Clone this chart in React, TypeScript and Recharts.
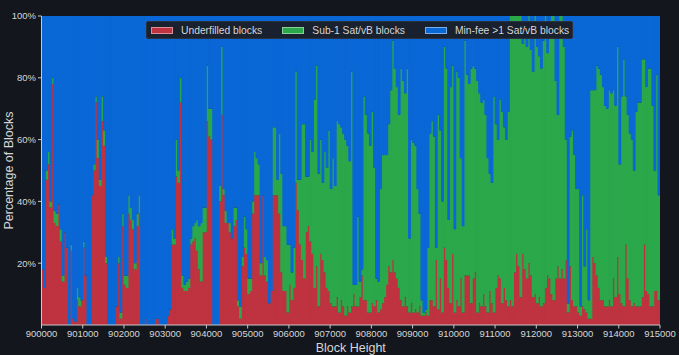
import { BarChart, Bar, XAxis, YAxis } from "recharts";

// 50-block bins, 900000 .. 915000
const blockStart = 900000;
const binSize = 50;

// % of blocks per bin that were underfilled
const underfilled = [
  18, 12, 47, 52, 38, 78, 33, 32, 39, 27,
  14, 30, 25, 0, 24, 2, 1, 8, 6, 8,
  25, 16, 0, 0, 42, 50, 72, 54, 45, 66,
  58, 20, 0, 0, 0, 0, 6, 20,
  2, 32, 13, 12, 36, 34, 31, 18, 32, 36,
  0, 0, 2, 0, 0, 0, 0, 2, 2, 0,
  0, 0, 0, 3, 5, 26, 26, 48, 46, 72,
  12, 11, 11, 12, 26, 27, 28,
  24, 18, 14, 30, 30, 66, 61, 60, 0, 0,
  0, 40, 68, 42, 33, 33, 30, 28, 32, 34,
  6, 2, 19, 25, 23, 10, 11, 36, 42, 42,
  42, 16, 42, 16, 14, 7, 11, 42,
  42, 42, 36, 17, 11, 11, 4, 13, 8, 12,
  46, 37, 26, 21, 15, 30, 32, 27, 23, 12,
  19, 6, 23, 21, 17, 12, 11, 7, 6, 6,
  9, 4, 8, 6, 3, 6, 4, 6,
  10, 6, 6, 9, 16, 8, 8, 4, 4, 7,
  6, 8, 4, 5, 7, 9, 13, 19, 17, 21,
  17, 15, 12, 8, 6, 9, 6, 4, 7, 4,
  5, 4, 6, 3, 3, 4, 3,
  8, 8, 6, 21, 5, 15, 4, 25, 21, 12,
  7, 23, 4, 8, 6, 15, 4, 16, 16, 16,
  7, 15, 17, 4, 7, 6, 10, 6, 4, 11,
  7, 4, 12, 16, 15, 7, 12, 8, 6,
  8, 6, 17, 23, 19, 9, 23, 18, 15, 20,
  16, 9, 10, 7, 9, 6, 7, 12, 16, 15,
  10, 8, 15, 19, 15, 18, 15, 21, 4, 19,
  8, 6, 6, 4, 3, 6,
  5,
  4, 2, 2, 22, 20, 16, 12, 8, 8, 6,
  6, 8, 6, 15, 9, 22, 10, 7, 6, 26,
  15, 8, 6, 7, 6, 6, 6, 9, 26, 11,
  10, 6, 6, 11, 11, 8,
];

// % of blocks per bin with sub-1 sat/vB transactions
const sub1 = [
  0, 0, 3, 4, 2, 2, 4, 4, 0, 4,
  2, 0, 0, 0, 2, 0, 0, 4, 3, 0,
  2, 0, 0, 0, 0, 2, 2, 6, 2, 8,
  5, 2, 0, 0, 0, 0, 0, 2,
  2, 4, 3, 4, 6, 4, 3, 2, 4, 6,
  0, 0, 0, 0, 0, 0, 0, 0, 0, 0,
  0, 0, 0, 0, 0, 5, 2, 12, 4, 8,
  4, 2, 3, 3, 2, 5, 5,
  10, 14, 19, 8, 8, 18, 9, 10, 0, 0,
  0, 5, 22, 2, 4, 0, 3, 0, 6, 4,
  2, 4, 3, 10, 8, 5, 4, 4, 14, 12,
  10, 4, 0, 6, 7, 0, 0, 22,
  22, 5, 26, 32, 21, 21, 22, 13, 9, 13,
  36, 10, 21, 44, 50, 18, 16, 33, 33, 61,
  65, 43, 37, 25, 39, 39, 52, 37, 48, 39,
  57, 61, 56, 56, 57, 52, 49, 76,
  3, 7, 29, 5, 2, 66, 60, 58, 54, 62,
  45, 7, 10, 39, 48, 46, 42, 46, 59, 71,
  66, 62, 56, 75, 73, 66, 77, 24, 53, 55,
  53, 40, 30, 5, 1, 1, 22,
  54, 58, 55, 4, 63, 48, 36, 65, 62, 22,
  70, 61, 27, 74, 74, 39, 28, 76, 65, 62,
  76, 69, 66, 75, 68, 66, 63, 62, 50, 38,
  39, 70, 53, 44, 58, 62, 52, 52, 63,
  92, 94, 83, 77, 81, 91, 68, 80, 75, 80,
  73, 73, 90, 83, 78, 77, 85, 88, 72, 79,
  90, 92, 64, 49, 85, 82, 75, 39, 3, 42,
  55, 49, 38, 40, 3, 36,
  14,
  27, 6, 74, 54, 56, 68, 71, 73, 69, 65,
  64, 68, 69, 61, 62, 68, 42, 67, 80, 48,
  53, 54, 54, 43, 63, 66, 66, 77, 60, 66,
  73, 77, 65, 39, 70, 34,
];

const xTicks = [
  900000, 901000, 902000, 903000, 904000, 905000, 906000, 907000,
  908000, 909000, 910000, 911000, 912000, 913000, 914000, 915000,
];
const yTicks = [20, 40, 60, 80, 100];

const data = underfilled.map((u, i) => ({
  height: blockStart + binSize * i + binSize / 2,
  underfilled: u,
  sub1: sub1[i],
  minfee: 100 - u - sub1[i],
}));

const colors = {
  underfilled: "#bf3340",
  sub1: "#2ba84a",
  minfee: "#0a67d6",
};

const bg = "#13161d";
const axisColor = "#c8c8c8";
const textColor = "#d6d6d6";
const font = "'Liberation Sans', Arial, sans-serif";

const legendItems = [
  { key: "underfilled", label: "Underfilled blocks" },
  { key: "sub1", label: "Sub-1 Sat/vB blocks" },
  { key: "minfee", label: "Min-fee >1 Sat/vB blocks" },
];

// bars are ~2px wide; widen slightly so neighbours overlap and no seams show
function BinRect(props: any) {
  const { x, y, width, height, fill } = props;
  if (!height || height <= 0) return null;
  return <rect x={x - 0.4} y={y} width={width + 0.8} height={height} fill={fill} />;
}

function ChartLegend() {
  return (
    <div
      style={{
        position: "absolute",
        left: 146,
        top: 21,
        width: 427,
        height: 18,
        boxSizing: "border-box",
        background: "#19202e",
        border: "1px solid #2a3140",
        borderRadius: 2,
        display: "flex",
        alignItems: "center",
        paddingLeft: 4,
        fontFamily: font,
        fontSize: 10.3,
        color: textColor,
        whiteSpace: "nowrap",
      }}
    >
      {legendItems.map((item) => (
        <div key={item.key} style={{ display: "flex", alignItems: "center", marginRight: 20 }}>
          <span
            style={{
              display: "inline-block",
              width: 22,
              height: 7,
              boxSizing: "border-box",
              background: colors[item.key as keyof typeof colors],
              border: "1px solid rgba(255,255,255,0.45)",
              marginRight: 8,
            }}
          />
          <span>{item.label}</span>
        </div>
      ))}
    </div>
  );
}

export default function App() {
  return (
    <div
      style={{
        position: "absolute",
        left: 0,
        top: 0,
        width: 679,
        height: 355,
        background: bg,
        overflow: "hidden",
      }}
    >
      <BarChart
        width={679}
        height={355}
        data={data}
        margin={{ top: 16, right: 19, bottom: 0, left: 0 }}
        barCategoryGap={0}
        barGap={0}
      >
        <XAxis
          type="number"
          dataKey="height"
          domain={[900000, 915000]}
          ticks={xTicks}
          interval={0}
          allowDataOverflow
          height={30}
          stroke={axisColor}
          tickSize={3.5}
          tick={{ fill: textColor, fontSize: 9.5, fontFamily: font }}
          label={{
            value: "Block Height",
            position: "insideBottom",
            offset: 3,
            fill: textColor,
            fontSize: 12.5,
            fontFamily: font,
          }}
        />
        <YAxis
          type="number"
          domain={[0, 100]}
          ticks={yTicks}
          width={41.5}
          stroke={axisColor}
          tickSize={3.5}
          tickFormatter={(v: number) => `${v}%`}
          tick={{ fill: textColor, fontSize: 9.5, fontFamily: font }}
          label={{
            value: "Percentage of Blocks",
            angle: -90,
            position: "center",
            dx: -12,
            fill: textColor,
            fontSize: 12.5,
            fontFamily: font,
          }}
        />
        <Bar dataKey="underfilled" stackId="a" fill={colors.underfilled} shape={BinRect} isAnimationActive={false} />
        <Bar dataKey="sub1" stackId="a" fill={colors.sub1} shape={BinRect} isAnimationActive={false} />
        <Bar dataKey="minfee" stackId="a" fill={colors.minfee} shape={BinRect} isAnimationActive={false} />
      </BarChart>
      <ChartLegend />
    </div>
  );
}
